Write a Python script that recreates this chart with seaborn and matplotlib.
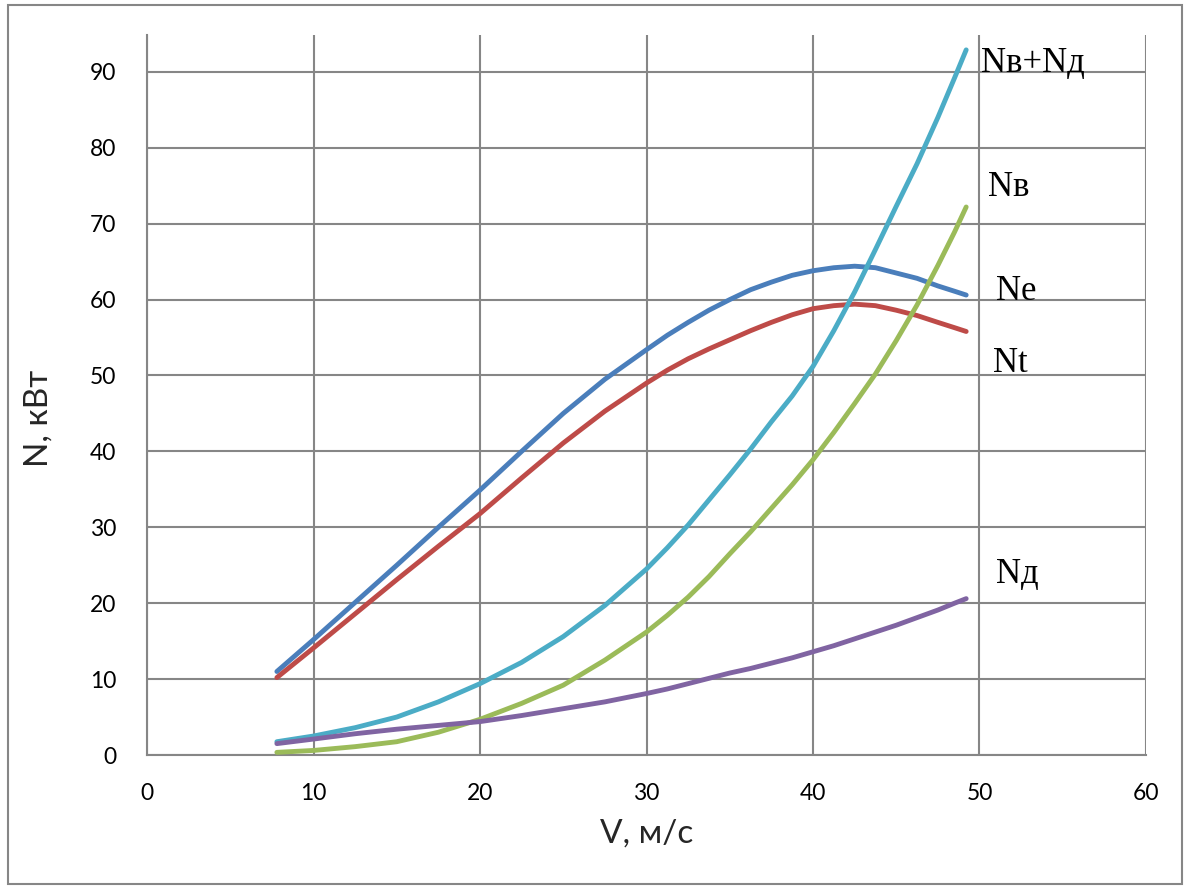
import matplotlib
matplotlib.use("Agg")
import matplotlib.pyplot as plt
import seaborn as sns
import pandas as pd
from matplotlib.patches import Rectangle

# ---- data ----
V = [7.8, 10, 12.5, 15, 17.5, 20, 22.5, 25, 27.5, 30, 31.25, 32.5, 33.75, 35, 36.25, 37.5,
     38.75, 40, 41.25, 42.5, 43.75, 45, 46.25, 47.5, 48.5, 49.2]
Ne = [11.0, 15.2, 20.1, 25.0, 30.0, 34.9, 40.0, 45.0, 49.5, 53.4, 55.3, 57.0, 58.6, 60.0, 61.3, 62.3,
      63.2, 63.8, 64.2, 64.4, 64.2, 63.5, 62.8, 61.8, 61.1, 60.6]
Nt = [10.2, 14.1, 18.6, 23.1, 27.5, 31.8, 36.5, 41.1, 45.3, 49.0, 50.7, 52.2, 53.5, 54.7, 55.9, 57.0,
      58.0, 58.8, 59.2, 59.4, 59.2, 58.6, 57.9, 57.0, 56.3, 55.8]
Nvd = [1.75, 2.5, 3.6, 5.0, 7.0, 9.4, 12.2, 15.6, 19.7, 24.5, 27.3, 30.3, 33.6, 36.9, 40.3, 43.9,
       47.3, 51.2, 55.9, 61.0, 66.6, 72.3, 77.9, 84.0, 89.2, 92.9]
Nv = [0.35, 0.6, 1.1, 1.75, 3.0, 4.7, 6.8, 9.2, 12.5, 16.2, 18.4, 20.8, 23.5, 26.5, 29.4, 32.5,
      35.6, 38.9, 42.5, 46.3, 50.2, 54.6, 59.3, 64.5, 68.9, 72.2]
Nd = [1.5, 2.1, 2.8, 3.4, 3.9, 4.4, 5.2, 6.1, 7.0, 8.1, 8.7, 9.4, 10.1, 10.8, 11.4, 12.1,
      12.8, 13.6, 14.4, 15.3, 16.2, 17.1, 18.1, 19.1, 20.0, 20.6]

series_names = ["Ne", "Nt", "Nв+Nд", "Nв", "Nд"]
series_vals = [Ne, Nt, Nvd, Nv, Nd]
colors = ["#4A7EBB", "#BE4B48", "#4BACC6", "#9BBB59", "#8064A2"]
label_pos = [(51.0, 59.9), (50.8, 50.5), (50.1, 90.0), (50.5, 73.6), (51.0, 22.6)]

x_ticks = [0, 10, 20, 30, 40, 50, 60]
y_ticks = [0, 10, 20, 30, 40, 50, 60, 70, 80, 90]

sns.set_theme(style="white")
plt.rcParams['font.family'] = ['Lato', 'DejaVu Sans']

fig = plt.figure(figsize=(11.89, 8.88), dpi=100)
ax = fig.add_axes([147 / 1189, (888 - 755) / 888, (1146 - 147) / 1189, (755 - 35) / 888])

grid_c = "#868686"
for name, vals, c in zip(series_names, series_vals, colors):
    df = pd.DataFrame({"V": V, "N": vals})
    sns.lineplot(data=df, x="V", y="N", ax=ax, color=c, linewidth=3.5, sort=False,
                 solid_capstyle="round", solid_joinstyle="round", zorder=3)

for name, (lx, ly) in zip(series_names, label_pos):
    ax.text(lx, ly, name, fontsize=25, family="Liberation Serif", ha="left", va="baseline",
            color="black")

ax.set_xlim(0, 60)
ax.set_ylim(0, 94.86)
ax.set_xticks(x_ticks)
ax.set_yticks(y_ticks)
ax.tick_params(axis="both", labelsize=16.5, length=8, width=1.3, color=grid_c, pad=12,
               direction="out", labelcolor="black")
ax.tick_params(axis="y", pad=14)
ax.grid(True, color=grid_c, linewidth=1.5, zorder=0)
ax.set_axisbelow(True)
for s in ["top", "right"]:
    ax.spines[s].set_visible(False)
for s in ["left", "bottom"]:
    ax.spines[s].set_color(grid_c)
    ax.spines[s].set_linewidth(1.5)

ax.set_xlabel("V, м/с", fontsize=24)
ax.set_ylabel("N, кВт", fontsize=24)
ax.xaxis.set_label_coords(0.5, -0.088)
ax.yaxis.set_label_coords(-0.094, 0.468)

fig.patches.append(Rectangle((8 / 1189, 1 - 884 / 888), (1182 - 8) / 1189, (884 - 5) / 888,
                             transform=fig.transFigure, fill=False, edgecolor=grid_c,
                             linewidth=1.5))

fig.savefig("out.png", dpi=100)
